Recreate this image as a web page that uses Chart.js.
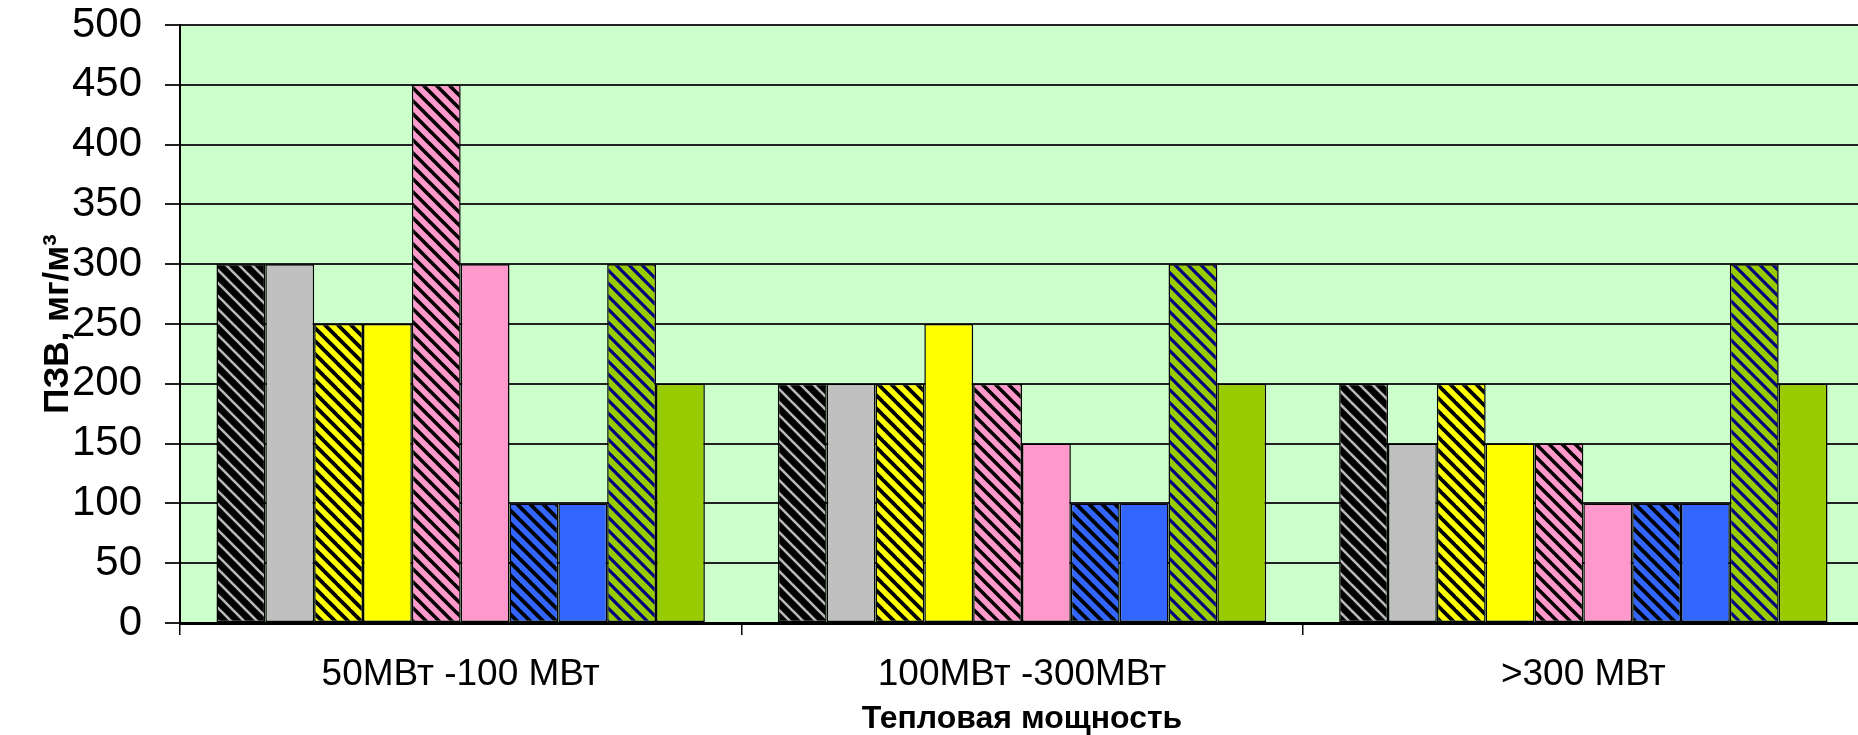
<!DOCTYPE html>
<html>
<head>
<meta charset="utf-8">
<script src="https://cdn.jsdelivr.net/npm/chart.js@4/dist/chart.umd.min.js"></script>
<style>
  html, body { margin: 0; padding: 0; background: #ffffff; overflow: hidden; }
  #wrap { position: relative; width: 1864px; height: 735px; }
</style>
</head>
<body>
<div id="wrap"><canvas id="c"></canvas></div>
<script>
// ---- data ----
const categories = ["50МВт -100 МВт", "100МВт -300МВт", ">300 МВт"];
const yTickLabels = [0, 50, 100, 150, 200, 250, 300, 350, 400, 450, 500];
const seriesNames = ["Ряд 1", "Ряд 2", "Ряд 3", "Ряд 4", "Ряд 5", "Ряд 6", "Ряд 7", "Ряд 8", "Ряд 9", "Ряд 10"];
const s1 = [300, 200, 200];
const s2 = [300, 200, 150];
const s3 = [250, 200, 200];
const s4 = [250, 250, 150];
const s5 = [450, 200, 150];
const s6 = [300, 150, 100];
const s7 = [100, 100, 100];
const s8 = [100, 100, 100];
const s9 = [300, 300, 300];
const s10 = [200, 200, 200];
const xTitle = "Тепловая мощность";
const yTitle = "ПЗВ, мг/м³";

// ---- hatch patterns ----
function hatch(bg, fg, stripe) {
  const P = 13;
  const cv = document.createElement('canvas');
  cv.width = P; cv.height = P;
  const g = cv.getContext('2d');
  g.fillStyle = bg; g.fillRect(0, 0, P, P);
  g.strokeStyle = fg; g.lineWidth = stripe; g.lineCap = 'square';
  for (let k = -1; k <= 1; k++) {
    g.beginPath();
    g.moveTo(k * P - 2, -2);
    g.lineTo(k * P + P + 2, P + 2);
    g.stroke();
  }
  return g.createPattern(cv, 'repeat');
}
const ctx = document.getElementById('c').getContext('2d');
const fills = [
  hatch('#000000', '#b8b8b8', 2.6),
  '#c0c0c0',
  hatch('#ffff00', '#000000', 3.8),
  '#ffff00',
  hatch('#ff99cc', '#000000', 3.6),
  '#ff99cc',
  hatch('#3366ff', '#000000', 3.8),
  '#3366ff',
  hatch('#99cc00', '#000080', 3.2),
  '#99cc00'
];
const seriesData = [s1, s2, s3, s4, s5, s6, s7, s8, s9, s10];

const datasets = seriesData.map((d, i) => ({
  label: seriesNames[i],
  data: d,
  backgroundColor: fills[i],
  borderColor: '#000000',
  borderWidth: 1.5,
  borderSkipped: false,
  categoryPercentage: 0.87,
  barPercentage: 1.0
}));

const plotBg = {
  id: 'plotBg',
  beforeDraw(chart) {
    const a = chart.chartArea, c = chart.ctx;
    c.save();
    c.fillStyle = '#ccffcc';
    c.fillRect(a.left, a.top, a.right - a.left, a.bottom - a.top);
    c.restore();
  }
};

new Chart(ctx, {
  type: 'bar',
  data: { labels: categories, datasets },
  plugins: [plotBg],
  options: {
    responsive: true,
    maintainAspectRatio: false,
    animation: false,
    layout: { padding: { top: 25, right: 0, left: 0, bottom: 0 } },
    plugins: { legend: { display: false }, tooltip: { enabled: false }, title: { display: false } },
    scales: {
      x: {
        offset: true,
        grid: { display: true, drawOnChartArea: false, drawTicks: true, tickLength: 12, color: '#000000', lineWidth: 1.5, offset: true },
        border: { display: true, color: '#000000', width: 3 },
        ticks: { color: '#000000', padding: 21, font: { family: 'Liberation Sans, Arial, sans-serif', size: 37, lineHeight: 1 }, maxRotation: 0, autoSkip: false },
        title: { display: true, text: xTitle, color: '#000000', padding: { top: 0, bottom: 0 }, font: { family: 'Liberation Sans, Arial, sans-serif', size: 32, weight: 'bold', lineHeight: 1 } },
        afterFit(scale) { scale.height = 112; scale.paddingLeft = 0; scale.paddingRight = 0; }
      },
      y: {
        min: 0, max: 500,
        afterBuildTicks(scale) { scale.ticks = yTickLabels.map(v => ({ value: v })); },
        grid: { display: true, drawOnChartArea: true, drawTicks: true, tickLength: 15, color: '#222222', lineWidth: 2 },
        border: { display: true, color: '#000000', width: 2 },
        ticks: { color: '#000000', padding: 23, font: { family: 'Liberation Sans, Arial, sans-serif', size: 42, lineHeight: 1 } },
        title: { display: true, text: yTitle, color: '#000000', padding: { top: 41, bottom: 0 }, font: { family: 'Liberation Sans, Arial, sans-serif', size: 35, weight: 'bold', lineHeight: 1 } },
        afterFit(scale) { scale.width = 180; scale.paddingTop = 0; scale.paddingBottom = 0; }
      }
    }
  }
});
</script>
</body>
</html>
